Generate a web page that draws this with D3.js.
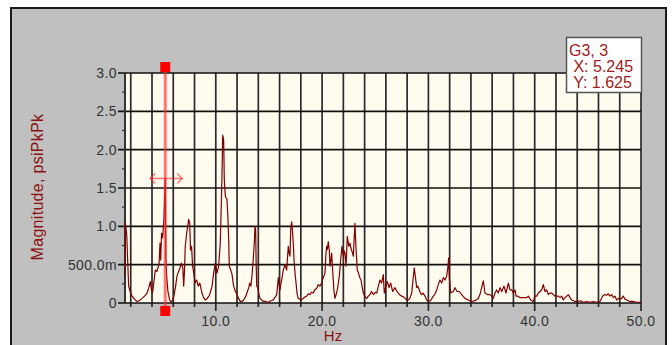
<!DOCTYPE html>
<html>
<head>
<meta charset="utf-8">
<script src="https://cdn.jsdelivr.net/npm/d3@7"></script>
<style>
  body { margin: 0; background: #fff; }
  text { font-family: Arial, "Liberation Sans", sans-serif; }
</style>
</head>
<body>
<svg id="chart" width="672" height="345"></svg>
<script>
// spectrum (Hz, psiPkPk)
const freqHz = [
  1.46, 1.49, 1.55, 1.62, 1.7, 1.8, 1.95, 2.12, 2.35, 2.59, 2.8, 3.06, 3.3, 3.53, 3.7, 3.84, 3.95, 4.05, 4.2, 4.31,
  4.45, 4.56, 4.66, 4.75, 4.82, 4.9, 5.0, 5.12, 5.245, 5.3, 5.38, 5.5, 5.65, 5.82, 5.95, 6.04, 6.2, 6.35, 6.5, 6.62,
  6.76, 6.9, 6.98, 7.05, 7.13, 7.25, 7.38, 7.45, 7.55, 7.62, 7.72, 7.82, 7.92, 8.05, 8.2, 8.35, 8.5, 8.7, 8.85, 9.01,
  9.2, 9.4, 9.55, 9.65, 9.8, 9.95, 10.05, 10.11, 10.27, 10.42, 10.52, 10.58, 10.65, 10.74, 10.8, 10.9, 11.05, 11.15, 11.22, 11.27,
  11.4, 11.52, 11.68, 11.85, 11.99, 12.15, 12.3, 12.45, 12.62, 12.8, 12.93, 13.1, 13.19, 13.3, 13.4, 13.5, 13.62, 13.69, 13.75, 13.8,
  13.85, 13.95, 14.05, 14.16, 14.3, 14.47, 14.7, 14.94, 15.2, 15.41, 15.6, 15.73, 15.88, 15.95, 16.04, 16.12, 16.2, 16.35, 16.51, 16.67,
  16.82, 16.9, 16.98, 17.05, 17.14, 17.23, 17.3, 17.36, 17.45, 17.52, 17.65, 17.76, 17.9, 18.08, 18.3, 18.55, 18.7, 18.86, 19.0, 19.17,
  19.3, 19.49, 19.64, 19.8, 19.96, 20.11, 20.27, 20.35, 20.43, 20.5, 20.58, 20.68, 20.74, 20.82, 20.9, 20.98, 21.05, 21.12, 21.21, 21.3,
  21.43, 21.52, 21.62, 21.75, 21.87, 21.95, 22.0, 22.08, 22.15, 22.25, 22.32, 22.37, 22.45, 22.5, 22.62, 22.7, 22.78, 22.94, 23.02, 23.09,
  23.18, 23.31, 23.4, 23.47, 23.55, 23.66, 23.78, 23.88, 24.05, 24.2, 24.35, 24.51, 24.65, 24.82, 25.0, 25.14, 25.29, 25.45, 25.6, 25.76,
  25.85, 26.0, 26.13, 26.3, 26.45, 26.64, 26.86, 27.0, 27.17, 27.35, 27.49, 27.65, 27.8, 28.0, 28.11, 28.25, 28.43, 28.55, 28.67, 28.75,
  28.9, 29.0, 29.15, 29.25, 29.37, 29.5, 29.68, 29.84, 29.99, 30.2, 30.46, 30.6, 30.78, 30.93, 31.09, 31.25, 31.4, 31.55, 31.72, 31.82,
  31.91, 31.96, 32.1, 32.34, 32.5, 32.7, 32.9, 33.13, 33.44, 33.75, 34.07, 34.38, 34.69, 34.85, 35.01, 35.17, 35.32, 35.55, 35.8, 35.95,
  36.1, 36.27, 36.42, 36.58, 36.74, 36.9, 37.11, 37.3, 37.52, 37.68, 37.84, 37.99, 38.15, 38.25, 38.4, 38.62, 38.9, 39.25, 39.4, 39.62,
  39.87, 40.03, 40.2, 40.34, 40.5, 40.66, 40.81, 40.97, 41.12, 41.28, 41.45, 41.6, 41.75, 41.91, 42.22, 42.38, 42.54, 42.69, 42.85, 43.01,
  43.16, 43.32, 43.48, 43.79, 44.1, 44.3, 44.57, 44.9, 45.2, 45.5, 45.83, 46.14, 46.4, 46.61, 46.76, 46.92, 47.08, 47.24, 47.4, 47.55,
  47.71, 47.87, 48.02, 48.18, 48.33, 48.49, 48.65, 48.96, 49.3, 49.6, 49.91, 50
];
const magnitude = [
  0.35, 1.04, 0.98, 0.9, 0.6, 0.22, 0.15, 0.09, 0.05, 0.02, 0.03, 0.06, 0.09, 0.13, 0.2, 0.28, 0.17, 0.13, 0.3, 0.43,
  0.41, 0.46, 0.5, 0.78, 0.56, 0.91, 0.85, 1.1, 1.625, 0.6, 0.35, 0.15, 0.04, 0.01, 0.04, 0.08, 0.2, 0.35, 0.41, 0.45,
  0.52, 0.46, 0.22, 0.4, 0.74, 0.9, 1.02, 1.09, 1.04, 0.69, 0.74, 0.48, 0.4, 0.26, 0.3, 0.22, 0.26, 0.13, 0.07, 0.04,
  0.06, 0.1, 0.17, 0.22, 0.39, 0.52, 0.45, 0.39, 0.48, 0.78, 1.3, 1.62, 2.19, 2.13, 1.61, 1.39, 1.35, 1.09, 0.8, 0.48,
  0.43, 0.38, 0.22, 0.15, 0.11, 0.06, 0.02, 0.02, 0.04, 0.08, 0.13, 0.2, 0.26, 0.22, 0.35, 0.52, 0.78, 1.0, 0.96, 0.5,
  0.22, 0.2, 0.12, 0.06, 0.04, 0.02, 0.02, 0.01, 0.03, 0.04, 0.08, 0.11, 0.33, 0.25, 0.17, 0.25, 0.3, 0.43, 0.5, 0.43,
  0.74, 0.65, 0.61, 0.96, 1.06, 0.91, 0.75, 0.56, 0.4, 0.3, 0.12, 0.06, 0.05, 0.04, 0.07, 0.09, 0.12, 0.11, 0.14, 0.13,
  0.17, 0.19, 0.24, 0.22, 0.26, 0.33, 0.39, 0.62, 0.74, 0.7, 0.8, 0.69, 0.48, 0.55, 0.65, 0.45, 0.3, 0.15, 0.06, 0.1,
  0.17, 0.25, 0.35, 0.56, 0.74, 0.66, 0.61, 0.68, 0.65, 0.48, 0.7, 0.87, 0.8, 0.74, 0.78, 0.72, 0.69, 0.61, 0.85, 1.04,
  0.74, 0.43, 0.4, 0.37, 0.33, 0.3, 0.2, 0.13, 0.08, 0.06, 0.09, 0.11, 0.15, 0.11, 0.14, 0.13, 0.22, 0.3, 0.26, 0.37,
  0.13, 0.22, 0.28, 0.2, 0.26, 0.15, 0.2, 0.16, 0.13, 0.1, 0.09, 0.08, 0.06, 0.04, 0.04, 0.06, 0.13, 0.3, 0.46, 0.37,
  0.2, 0.22, 0.17, 0.13, 0.11, 0.13, 0.09, 0.04, 0.02, 0.03, 0.09, 0.11, 0.17, 0.24, 0.3, 0.26, 0.33, 0.3, 0.35, 0.45,
  0.59, 0.35, 0.13, 0.15, 0.2, 0.15, 0.15, 0.11, 0.06, 0.04, 0.02, 0.03, 0.06, 0.11, 0.2, 0.29, 0.13, 0.11, 0.11, 0.09,
  0.06, 0.13, 0.17, 0.13, 0.2, 0.15, 0.22, 0.13, 0.26, 0.17, 0.17, 0.13, 0.17, 0.09, 0.09, 0.07, 0.07, 0.07, 0.09, 0.04,
  0.02, 0.09, 0.09, 0.13, 0.15, 0.17, 0.24, 0.15, 0.17, 0.11, 0.13, 0.13, 0.11, 0.09, 0.09, 0.07, 0.09, 0.04, 0.07, 0.09,
  0.11, 0.07, 0.04, 0.02, 0.02, 0.03, 0.01, 0.02, 0.01, 0.02, 0.01, 0.02, 0.09, 0.11, 0.1, 0.12, 0.09, 0.11, 0.07, 0.09,
  0.04, 0.06, 0.05, 0.06, 0.09, 0.05, 0.04, 0.02, 0.02, 0.01, 0.01, 0.01
];

const yTicks = [0, 0.5, 1, 1.5, 2, 2.5, 3];
const yMinorTicks = [0.25, 0.75, 1.25, 1.75, 2.25, 2.75];
const xTicks = [10, 20, 30, 40, 50];
const xGrid = [2, 4, 6, 8, 10, 12, 14, 16, 18, 20, 22, 24, 26, 28, 30, 32, 34, 36, 38, 40, 42, 44, 46, 48, 50];

const cursorX = 5.245;
const cursorY = 1.625;
const legendLines = ["G3, 3", " X: 5.245", " Y: 1.625"];

const DARKRED = "#8b1010";

var svg = d3.select("#chart");
var plot = { left: 125, right: 641, top: 73, bottom: 303 };

var x = d3.scaleLinear().domain([1.46, 50]).range([plot.left, plot.right]);
var y = d3.scaleLinear().domain([0, 3]).range([plot.bottom, plot.top]);

// grey frame
svg.append("rect")
  .attr("x", 11).attr("y", 8)
  .attr("width", 655).attr("height", 345)
  .attr("fill", "#c0c0c0")
  .attr("stroke", "#1a1a1a")
  .attr("stroke-width", 2);

svg.append("rect")
  .attr("x", plot.left).attr("y", plot.top)
  .attr("width", plot.right - plot.left)
  .attr("height", plot.bottom - plot.top)
  .attr("fill", "#fffcef");

// vertical grid
svg.append("g")
  .selectAll("line")
  .data(xGrid)
  .join("line")
  .attr("x1", d => x(d)).attr("x2", d => x(d))
  .attr("y1", plot.top).attr("y2", d => plot.bottom + (d % 10 === 0 ? 8 : 4))
  .attr("stroke", "#2a2a2a")
  .attr("stroke-width", 1.7);

// horizontal grid
svg.append("g")
  .selectAll("line")
  .data(yTicks)
  .join("line")
  .attr("x1", plot.left - 7).attr("x2", plot.right)
  .attr("y1", d => y(d)).attr("y2", d => y(d))
  .attr("stroke", "#111")
  .attr("stroke-width", 1.7);

svg.append("g")
  .selectAll("line")
  .data(yMinorTicks)
  .join("line")
  .attr("x1", plot.left - 3).attr("x2", plot.left)
  .attr("y1", d => y(d)).attr("y2", d => y(d))
  .attr("stroke", "#333")
  .attr("stroke-width", 1.2);

// left axis line
svg.append("line")
  .attr("x1", plot.left).attr("x2", plot.left)
  .attr("y1", plot.top).attr("y2", plot.bottom)
  .attr("stroke", "#333")
  .attr("stroke-width", 2);

// tick labels
svg.append("g")
  .selectAll("text")
  .data(yTicks)
  .join("text")
  .attr("x", 117)
  .attr("y", d => y(d))
  .attr("dy", "0.36em")
  .attr("text-anchor", "end")
  .attr("font-size", 14)
  .attr("letter-spacing", 0.4)
  .attr("fill", "#333")
  .text(d => d === 0 ? "0" : d < 1 ? (d * 1000).toFixed(1) + "m" : d.toFixed(1));

svg.append("g")
  .selectAll("text")
  .data(xTicks)
  .join("text")
  .attr("x", d => x(d))
  .attr("y", 326)
  .attr("text-anchor", "middle")
  .attr("font-size", 14)
  .attr("letter-spacing", 0.4)
  .attr("fill", "#333")
  .text(d => d.toFixed(1));

// axis titles
svg.append("text")
  .attr("x", 333).attr("y", 341)
  .attr("text-anchor", "middle")
  .attr("font-size", 15)
  .attr("fill", DARKRED)
  .text("Hz");

svg.append("text")
  .attr("transform", "translate(42.5,187) rotate(-90)")
  .attr("text-anchor", "middle")
  .attr("font-size", 16)
  .attr("letter-spacing", 0.3)
  .attr("fill", DARKRED)
  .text("Magnitude, psiPkPk");

// spectrum trace
var line = d3.line()
  .x((d, i) => x(freqHz[i]))
  .y(d => y(d));

svg.append("path")
  .datum(magnitude)
  .attr("fill", "none")
  .attr("stroke", "#800000")
  .attr("stroke-width", 1.2)
  .attr("stroke-linejoin", "round")
  .attr("d", line);

// cursor
var cx = x(cursorX), cy = y(cursorY);
var cursor = svg.append("g").attr("stroke", "#ff3030").attr("stroke-opacity", 0.65).attr("fill", "none");
cursor.append("line")
  .attr("x1", cx).attr("x2", cx)
  .attr("y1", plot.top - 6).attr("y2", plot.bottom + 8)
  .attr("stroke-width", 3);
cursor.append("line")
  .attr("x1", cx - 15).attr("x2", cx + 17)
  .attr("y1", cy).attr("y2", cy)
  .attr("stroke-width", 1.5);
cursor.append("path")
  .attr("d", `M${cx - 10},${cy - 5}L${cx - 15},${cy}L${cx - 10},${cy + 5}M${cx + 12},${cy - 5}L${cx + 17},${cy}L${cx + 12},${cy + 5}`)
  .attr("stroke-width", 1.5);
svg.selectAll("rect.handle")
  .data([plot.top - 6, plot.bottom + 8])
  .join("rect")
  .attr("class", "handle")
  .attr("x", cx - 5).attr("y", d => d - 5)
  .attr("width", 10).attr("height", 10)
  .attr("fill", "#ff0000");

// readout box
svg.append("rect")
  .attr("x", 566.5).attr("y", 37.5)
  .attr("width", 75).attr("height", 55)
  .attr("fill", "#fff")
  .attr("stroke", "#555")
  .attr("stroke-width", 1.5);

svg.append("g")
  .selectAll("text")
  .data(legendLines)
  .join("text")
  .attr("x", 569)
  .attr("y", (d, i) => 56 + i * 16)
  .attr("font-size", 16)
  .attr("fill", "#a02020")
  .attr("xml:space", "preserve")
  .style("white-space", "pre")
  .text(d => d);
</script>
</body>
</html>
